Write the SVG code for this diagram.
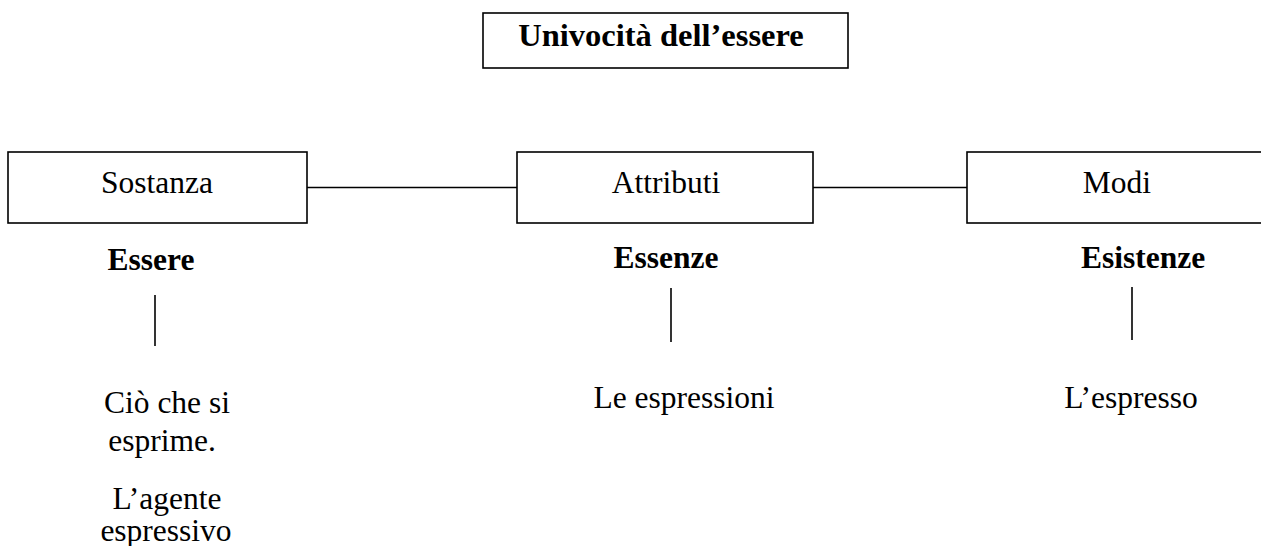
<svg xmlns="http://www.w3.org/2000/svg" width="1261" height="546" viewBox="0 0 1261 546">
<style>
.box{fill:#fff;stroke:#000;stroke-width:1.6}
.ln{stroke:#000;stroke-width:1.6;fill:none}
text{font-family:"Liberation Serif","Times New Roman",serif;font-size:31.5px;fill:#000;text-anchor:middle}
.b{font-weight:bold}
.t{font-size:32.5px}
</style>
<rect width="1261" height="546" fill="#fff"/>
<g id="connectors">
<line class="ln" x1="307" y1="187.5" x2="517" y2="187.5"/>
<line class="ln" x1="813" y1="187.5" x2="967" y2="187.5"/>
<line class="ln" x1="155" y1="295" x2="155" y2="346"/>
<line class="ln" x1="671" y1="288" x2="671" y2="342"/>
<line class="ln" x1="1132" y1="287" x2="1132" y2="340"/>
</g>
<g id="title">
<rect class="box" x="483" y="13" width="365" height="55"/>
<text class="b t" x="661" y="46">Univocità dell’essere</text>
</g>
<g id="sostanza">
<rect class="box" x="8" y="152" width="299" height="71"/>
<text x="157" y="193">Sostanza</text>
</g>
<g id="attributi">
<rect class="box" x="517" y="152" width="296" height="71"/>
<text x="666" y="193">Attributi</text>
</g>
<g id="modi">
<rect class="box" x="967" y="152" width="300" height="71"/>
<text x="1117" y="193">Modi</text>
</g>
<g id="essere">
<text class="b" x="151" y="270">Essere</text>
</g>
<g id="essenze">
<text class="b" x="666" y="268">Essenze</text>
</g>
<g id="esistenze">
<text class="b" x="1143" y="268">Esistenze</text>
</g>
<g id="cio-che-si-esprime">
<text x="167" y="413">Ciò che si</text>
<text x="162" y="451">esprime.</text>
<text x="167" y="509">L’agente</text>
<text x="166" y="541">espressivo</text>
</g>
<g id="le-espressioni">
<text x="684" y="408">Le espressioni</text>
</g>
<g id="espresso">
<text x="1131" y="408">L’espresso</text>
</g>
</svg>
